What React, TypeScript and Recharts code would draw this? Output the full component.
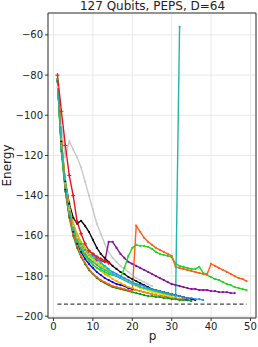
import {
  LineChart,
  Line,
  XAxis,
  YAxis,
  CartesianGrid,
  ReferenceArea,
} from "recharts";

// energies per p (p = 1, 2, 3, ...)
const gray = [-86, -105, -121, -113, -117, -121, -126, -133, -140, -147, -154, -159, -164, -168, -171, -173, -175, -176.5, -178, -179.5, -181, -182, -183, -184, -185];
const purple = [-82, -115, -135, -147, -155, -160, -164, -167, -169, -171, -172, -172.5, -173, -163, -163, -166, -169, -171, -173, -174, -175, -176, -177, -178, -179, -180, -181, -182, -183, -184, -184.5, -185, -185.5, -186, -186.5, -186.5, -187, -187, -187, -187.5, -187.5, -188, -188, -188, -188.5, -188.5];
const black = [-82, -113, -133, -144, -151, -154, -152.5, -155, -158, -162, -166, -169, -171, -173, -175, -176.5, -178, -179, -180.5, -181.5, -182.5, -183.5, -184.5, -185.5, -186.5, -187, -187.5, -188, -188.5, -189, -189.5, -190, -190.5, -191, -191.5, -192];
const blue = [-82, -115, -137, -150, -158, -164, -168, -171.5, -174, -176, -178, -179.5, -181, -182, -183, -184, -184.5, -185, -186, -186.5, -187, -187.5, -188, -188.5, -189, -189.5, -190, -190, -190.5, -191, -191, -191.5, -191.5, -192];
const dodger = [-83, -117, -136, -148, -156, -162, -166, -169.5, -171, -172, -173.5, -175, -176, -177, -178, -179, -180, -181, -182, -183, -184, -184.5, -185, -186, -186.5, -187, -187.5, -188, -188.5, -189, -189.5, -190, -190.5, -191, -191, -191.5, -191.5, -192];
const skyShort = [-82, -116, -135, -147, -155, -160, -164, -167, -169, -170, -171.5, -173.5, -175, -176.5];
const turqShort = [-82, -116, -136, -148, -156, -161, -165, -168, -170, -171, -170.5, -173, -175.5, -177];
const yellowGreen = [-82, -115, -134, -146, -154, -159, -163, -166, -169, -171, -173, -174.5, -176, -177.5, -179, -180, -181, -182, -183, -184, -185, -185.5, -186.5, -187, -187.5, -188, -188.5, -189, -189.5, -190];
const yellow = [-82, -116, -135, -147, -155, -161, -165, -168, -170.5, -172, -173.5, -175, -176.5, -178, -179, -180, -181, -182, -183, -184, -185, -186, -186.5, -187, -188, -188.5, -189, -189.5, -190, -190.5, -191, -191];
const orange = [-82, -112, -134, -146, -154, -160, -165, -168.5, -171.5, -174, -176, -177.5, -179, -180, -181.5, -182.5, -183.5, -184.5, -185.5, -186, -187, -187.5, -188, -188.5, -189, -189.5, -190, -190.5, -190.5, -191, -191, -191.5, -191.5];
const darkGreen = [-83, -118, -138, -151, -160, -166, -170.5, -174, -177, -179, -181, -182.5, -183.5, -184.5, -185.5, -186, -186.5, -187, -187.5, -188, -188.5, -189, -189.5, -190, -190, -190.5, -190.5, -191, -191, -191.5, -191.5, -192, -192, -192, -192.5];
const lime = [-82, -116, -136, -149, -157, -163, -167, -170, -172.5, -174.5, -176, -177, -178, -179, -179.5, -180, -181, -176, -170, -166, -164.5, -165, -165, -165.5, -166.5, -168, -169, -169.5, -170, -170.5, -174, -175, -175.5, -176, -176.5, -176.5, -175.5, -178.5, -179.5, -180.5, -181.5, -182, -183, -184, -184.5, -185.5, -186, -186.5, -187];
const orangeRed = [-82, -114, -136, -150, -159, -165, -170, -173.5, -176.5, -179, -180.5, -182, -183, -184, -185, -185.5, -186, -186.5, -187, -187.5, -155, -158, -161, -163, -164.5, -166, -167, -168, -169, -170, -175.5, -176, -176.5, -177, -177.5, -178, -178.5, -179, -179, -174, -175, -176, -177, -178, -179, -180, -181, -181.5, -182.5];
const red = [-80, -98, -115, -130, -140, -153, -159, -164, -167.5, -169, -170.5, -171.5, -172.5, -173.5];
const teal = [-82, -116, -135, -148, -156, -162, -166, -169, -171.5, -173, -174.5, -176, -177, -178, -179, -180, -181, -182, -183, -184, -184.5, -185.5, -186, -186.5, -187, -187.5, -188, -188.5, -189, -189.5, -190, -56];

const exactEnergy = -194;
const exactRange = [1, 49];

const xTicks = [0, 10, 20, 30, 40, 50];
const yTicks = [-200, -180, -160, -140, -120, -100, -80, -60];

const series = [
  { name: "gray", color: "#c9c9c9", values: gray },
  { name: "purple", color: "#8a0f9e", values: purple },
  { name: "black", color: "#111111", values: black },
  { name: "blue", color: "#0b0bd6", values: blue },
  { name: "dodger", color: "#1e90ff", values: dodger },
  { name: "sky", color: "#00b0f0", values: skyShort },
  { name: "turq", color: "#14c8c8", values: turqShort },
  { name: "yellowGreen", color: "#9fd800", values: yellowGreen },
  { name: "yellow", color: "#f5dd00", values: yellow },
  { name: "orange", color: "#ffa500", values: orange },
  { name: "darkGreen", color: "#109910", values: darkGreen },
  { name: "lime", color: "#22d422", values: lime },
  { name: "orangeRed", color: "#ff5f1a", values: orangeRed },
  { name: "teal", color: "#22b5aa", values: teal },
];

const toPoints = (values: number[]) => values.map((v, i) => ({ p: i + 1, v }));

const fmt = (v: number) => (v < 0 ? "\u2212" + Math.abs(v) : String(v));

const font = "DejaVu Sans, sans-serif";

function PlusDot(props: any) {
  const { cx, cy, index } = props;
  if (cx == null || cy == null) return null;
  return (
    <path
      key={"plus" + index}
      d={`M${cx - 2},${cy}h4M${cx},${cy - 2}v4`}
      stroke="#e8141c"
      strokeWidth={1}
    />
  );
}

export default function App() {
  return (
    <div style={{ position: "absolute", left: 0, top: 0, width: 258, height: 347, background: "#fff" }}>
      <LineChart width={258} height={347} margin={{ top: 13, right: 2, bottom: 0, left: 0 }}>
        <CartesianGrid stroke="#e8e8e8" strokeWidth={1} />
        <XAxis
          dataKey="p"
          type="number"
          domain={[-1.4, 51.4]}
          allowDataOverflow
          ticks={xTicks}
          height={29}
          axisLine={false}
          tickLine={{ stroke: "#333" }}
          tickSize={3}
          tickMargin={2}
          tick={{ fill: "#222", fontSize: 10, fontFamily: font }}
        />
        <YAxis
          type="number"
          domain={[-200.9, -49.1]}
          allowDataOverflow
          ticks={yTicks}
          width={48}
          axisLine={false}
          tickLine={{ stroke: "#333" }}
          tickSize={3}
          tickMargin={2}
          tickFormatter={fmt}
          tick={{ fill: "#222", fontSize: 10, fontFamily: font }}
        />
        {series.map((s) => (
          <Line
            key={s.name}
            data={toPoints(s.values)}
            dataKey="v"
            type="linear"
            stroke={s.color}
            strokeWidth={1.4}
            dot={{ r: 1.1, fill: s.color, stroke: s.color, strokeWidth: 0 }}
            activeDot={false}
            isAnimationActive={false}
          />
        ))}
        <Line
          data={toPoints(red)}
          dataKey="v"
          type="linear"
          stroke="#e8141c"
          strokeWidth={1.4}
          dot={PlusDot}
          activeDot={false}
          isAnimationActive={false}
        />
        <Line
          data={exactRange.map((p) => ({ p, v: exactEnergy }))}
          dataKey="v"
          type="linear"
          stroke="#444"
          strokeWidth={1.3}
          strokeDasharray="4 2.5"
          dot={false}
          activeDot={false}
          isAnimationActive={false}
        />
        <ReferenceArea
          x1={-1.4}
          x2={51.4}
          y1={-200.9}
          y2={-49.1}
          fill="none"
          stroke="#333"
          strokeWidth={1}
        />
      </LineChart>
      <svg
        width={258}
        height={347}
        style={{ position: "absolute", left: 0, top: 0, pointerEvents: "none" }}
      >
        <text x={152.5} y={10} textAnchor="middle" fontSize={12} fontFamily={font} fill="#222">
          127 Qubits, PEPS, D=64
        </text>
        <text
          x={10.5}
          y={165.5}
          textAnchor="middle"
          fontSize={12}
          fontFamily={font}
          fill="#222"
          transform="rotate(-90, 10.5, 165.5)"
        >
          Energy
        </text>
        <text x={152.5} y={340} textAnchor="middle" fontSize={12} fontFamily={font} fill="#222">
          p
        </text>
      </svg>
    </div>
  );
}
